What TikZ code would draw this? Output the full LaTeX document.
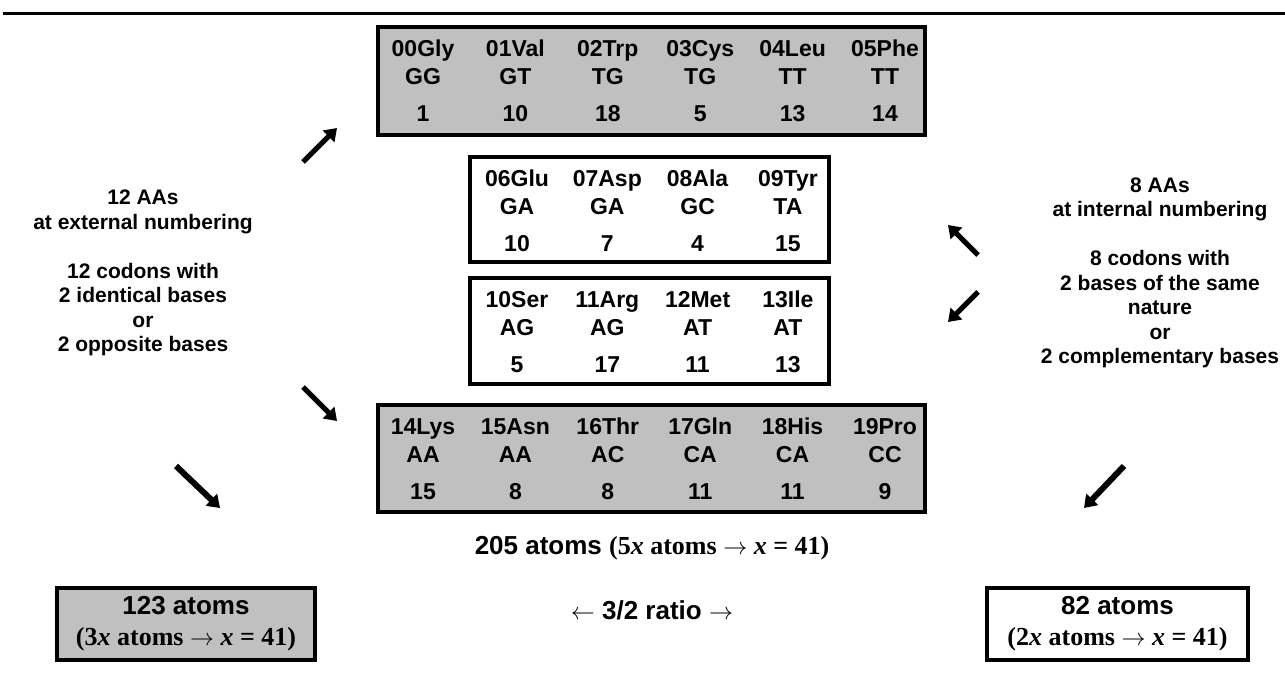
\documentclass[tikz,border=0pt]{standalone}
\usepackage{fontspec}
\setmainfont{Liberation Sans}
\newfontfamily\timesfont{Liberation Serif}
\usetikzlibrary{arrows.meta}
\definecolor{boxgray}{HTML}{C0C0C0}
\newcommand{\atomsx}[1]{{\timesfont\bfseries(#1\textit{x} atoms $\rightarrow$ \textit{x} = 41)}}

\begin{document}
\begin{tikzpicture}[x=0.5pt,y=-0.5pt,
  aabox/.style={draw,line width=2pt,inner sep=0pt},
  aa/.style={font=\fontsize{11.5}{13}\selectfont\bfseries,inner sep=0pt,anchor=base},
  side/.style={font=\fontsize{10.5}{12.25}\selectfont\bfseries,align=center,inner sep=0pt},
  sumbox/.style={draw,line width=2pt,align=center,inner sep=0pt,
    minimum height=36pt,font=\fontsize{13}{15.5}\selectfont\bfseries},
  fat/.style={line width=2.5pt,-{Triangle[length=6pt,width=8pt]}}]
\useasboundingbox (0,0) rectangle (1285,673);
\draw[line width=1.5pt] (3,14) -- (1285,14);

% amino acid boxes
\node[aabox,fill=boxgray,minimum width=273.5pt,minimum height=54pt] (topbox) at (651.5,81) {};
\node[aabox,minimum width=179.5pt,minimum height=52.5pt] (midboxa) at (649.5,209.5) {};
\node[aabox,minimum width=179.5pt,minimum height=53pt] (midboxb) at (649.5,331) {};
\node[aabox,fill=boxgray,minimum width=273.5pt,minimum height=53.5pt] (lowbox) at (651.5,458.5) {};

\foreach \nm/\cd/\at [count=\k from 0] in {00Gly/GG/1,01Val/GT/10,02Trp/TG/18,03Cys/TG/5,04Leu/TT/13,05Phe/TT/14} {
  \node[aa] (\nm) at (423+92.4*\k,57) {\nm};
  \node[aa] (\nm-c) at (423+92.4*\k,85) {\cd};
  \node[aa] (\nm-a) at (423+92.4*\k,122) {\at};
}
\foreach \nm/\cd/\at [count=\k from 0] in {06Glu/GA/10,07Asp/GA/7,08Ala/GC/4,09Tyr/TA/15} {
  \node[aa] (\nm) at (517+90.3*\k,187) {\nm};
  \node[aa] (\nm-c) at (517+90.3*\k,215) {\cd};
  \node[aa] (\nm-a) at (517+90.3*\k,252) {\at};
}
\foreach \nm/\cd/\at [count=\k from 0] in {10Ser/AG/5,11Arg/AG/17,12Met/AT/11,13Ile/AT/13} {
  \node[aa] (\nm) at (517+90.3*\k,308) {\nm};
  \node[aa] (\nm-c) at (517+90.3*\k,336) {\cd};
  \node[aa] (\nm-a) at (517+90.3*\k,373) {\at};
}
\foreach \nm/\cd/\at [count=\k from 0] in {14Lys/AA/15,15Asn/AA/8,16Thr/AC/8,17Gln/CA/11,18His/CA/11,19Pro/CC/9} {
  \node[aa] (\nm) at (423+92.4*\k,435) {\nm};
  \node[aa] (\nm-c) at (423+92.4*\k,463) {\cd};
  \node[aa] (\nm-a) at (423+92.4*\k,500) {\at};
}

% side notes
\node[side] (external) at (143,273) {12 AAs\\at external numbering\\[12.25pt]12 codons with\\2 identical bases\\or\\2 opposite bases};
\node[side] (internal) at (1160,273) {8 AAs\\at internal numbering\\[12.25pt]8 codons with\\2 bases of the same\\nature\\or\\2 complementary bases};

% arrows
\coordinate (exta) at (303,162); \coordinate (extA) at (337,128);
\coordinate (extb) at (303,387); \coordinate (extB) at (337,421);
\coordinate (inta) at (978,255); \coordinate (intA) at (948,225);
\coordinate (intb) at (978,292); \coordinate (intB) at (948,322);
\coordinate (suma) at (176,466); \coordinate (sumA) at (220,508);
\coordinate (sumb) at (1124,466); \coordinate (sumB) at (1084,508);
\draw[fat] (exta) -- (extA);
\draw[fat] (extb) -- (extB);
\draw[fat] (inta) -- (intA);
\draw[fat] (intb) -- (intB);
\draw[fat,line width=3pt] (suma) -- (sumA);
\draw[fat,line width=3pt] (sumb) -- (sumB);

% totals
\node[font=\fontsize{13}{14}\selectfont\bfseries] (total) at (652,548) {205 atoms \atomsx{5}};
\node[font=\fontsize{13}{14}\selectfont\bfseries] (ratio) at (652,610) {$\leftarrow$ 3/2 ratio $\rightarrow$};
\node[sumbox,fill=boxgray,minimum width=129pt] (leftsum) at (186,623.5) {123 atoms\\\atomsx{3}};
\node[sumbox,fill=white,minimum width=130.5pt] (rightsum) at (1117.5,623.5) {82 atoms\\\atomsx{2}};
\end{tikzpicture}
\end{document}
